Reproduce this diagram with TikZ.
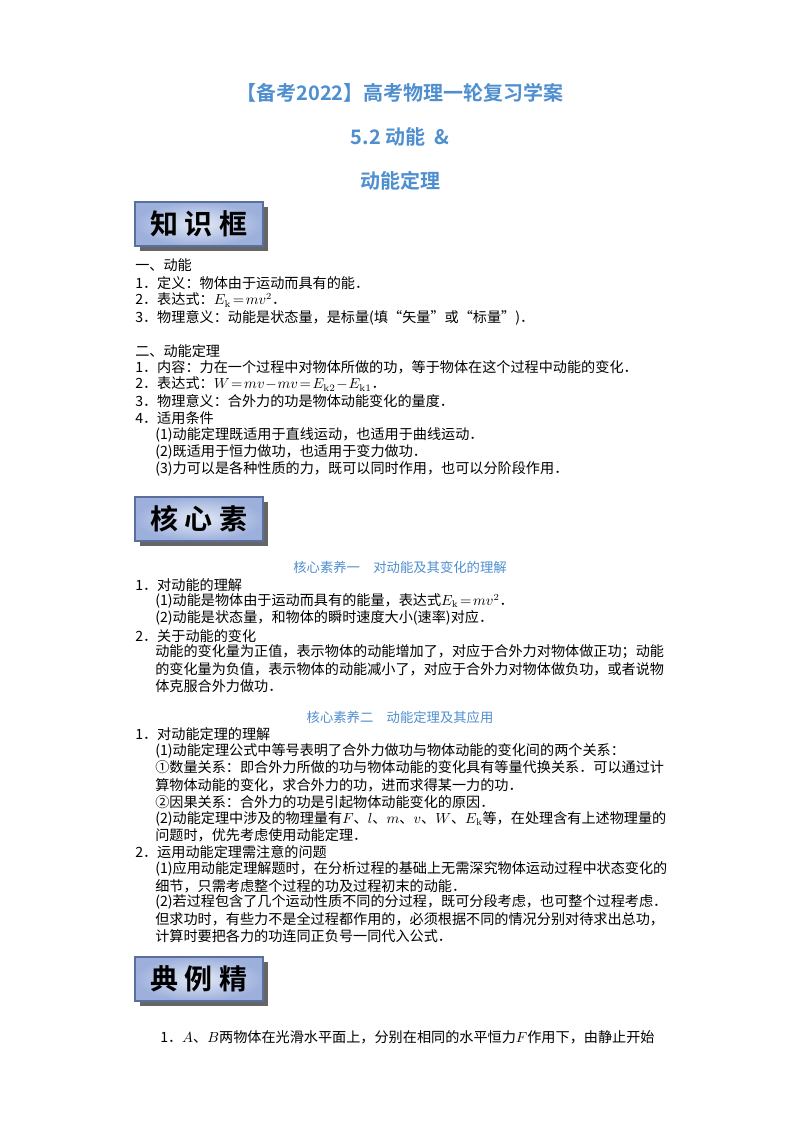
\documentclass[tikz,border=0pt]{standalone}
\usepackage{fontspec}
\newfontfamily\cjk{Noto Sans CJK SC}
\newfontfamily\cjkb{Noto Sans CJK SC}[BoldFont={* Bold}]
\definecolor{tblue}{HTML}{4F8FD0}
\definecolor{boxin}{HTML}{E4EAF6}
\definecolor{boxout}{HTML}{9DB0DC}
\definecolor{boxline}{HTML}{5A6F9E}
\begin{document}
\begin{tikzpicture}[x=0.75pt,y=-0.75pt,
  txt/.style={anchor=west,inner sep=0,font=\cjk\fontsize{10.6}{12}\selectfont},
  ttl/.style={inner sep=0,text=tblue,font=\cjkb\bfseries\fontsize{15}{18}\selectfont},
  sub/.style={inner sep=0,text=tblue,font=\cjk\fontsize{10}{12}\selectfont},
  hbox/.style={draw=boxline,line width=0.8pt,inner color=boxin,outer color=boxout,minimum width=96pt,minimum height=33pt,font=\cjkb\bfseries\fontsize{21}{24}\selectfont}]
\fill[white] (0,0) rectangle (800,1132);
\useasboundingbox (0,0) rectangle (800,1132);
\node[ttl] (t1) at (400,93) {【备考2022】高考物理一轮复习学案};
\node[ttl] (t2) at (400,137) {5.2 动能\ \ \&};
\node[ttl] (t3) at (400,181) {动能定理};
% boxes
\foreach \n/\yy/\lab in {b1/224/知\ 识\ 框, b2/519/核\ 心\ 素, b3/979/典\ 例\ 精}{
  \fill[black!60] (140,\yy-17) rectangle (268,\yy+27);
  \node[hbox] (\n) at (199,\yy) {\lab};
}
\node[txt] (a1) at (135,265) {一、动能};
\node[txt] (a2) at (135,283) {1．定义：物体由于运动而具有的能．};
\node[txt] (a3) at (135,300) {2．表达式：$E_{\rm k}\!=\!mv^2$．};
\node[txt] (a4) at (135,318) {3．物理意义：动能是状态量，是标量(填“矢量”或“标量”)．};
\node[txt] (a5) at (135,351) {二、动能定理};
\node[txt] (a6) at (135,367) {1．内容：力在一个过程中对物体所做的功，等于物体在这个过程中动能的变化．};
\node[txt] (a7) at (135,384) {2．表达式：$W\!=\!mv\!-\!mv\!=\!E_{\rm k2}\!-\!E_{\rm k1}$．};
\node[txt] (a8) at (135,401) {3．物理意义：合外力的功是物体动能变化的量度．};
\node[txt] (a9) at (135,418) {4．适用条件};
\node[txt] (a10) at (155,435) {(1)动能定理既适用于直线运动，也适用于曲线运动．};
\node[txt] (a11) at (155,452) {(2)既适用于恒力做功，也适用于变力做功．};
\node[txt] (a12) at (155,469) {(3)力可以是各种性质的力，既可以同时作用，也可以分阶段作用．};
\node[sub] (s1) at (400,567) {核心素养一\quad 对动能及其变化的理解};
\node[txt] (c1) at (135,585) {1．对动能的理解};
\node[txt] (c2) at (155,601) {(1)动能是物体由于运动而具有的能量，表达式$E_{\rm k}\!=\!mv^2$．};
\node[txt] (c3) at (155,618) {(2)动能是状态量，和物体的瞬时速度大小(速率)对应．};
\node[txt] (c4) at (135,636) {2．关于动能的变化};
\node[txt] (c5) at (155,652) {动能的变化量为正值，表示物体的动能增加了，对应于合外力对物体做正功；动能};
\node[txt] (c6) at (155,669) {的变化量为负值，表示物体的动能减小了，对应于合外力对物体做负功，或者说物};
\node[txt] (c7) at (155,686) {体克服合外力做功．};
\node[sub] (s2) at (400,717) {核心素养二\quad 动能定理及其应用};
\node[txt] (d1) at (135,734) {1．对动能定理的理解};
\node[txt] (d2) at (155,751) {(1)动能定理公式中等号表明了合外力做功与物体动能的变化间的两个关系：};
\node[txt] (d3) at (155,767) {①数量关系：即合外力所做的功与物体动能的变化具有等量代换关系．可以通过计};
\node[txt] (d4) at (155,785) {算物体动能的变化，求合外力的功，进而求得某一力的功．};
\node[txt] (d5) at (155,802) {②因果关系：合外力的功是引起物体动能变化的原因．};
\node[txt] (d6) at (155,819) {(2)动能定理中涉及的物理量有$F$、$l$、$m$、$v$、$W$、$E_{\rm k}$等，在处理含有上述物理量的};
\node[txt] (d7) at (155,835) {问题时，优先考虑使用动能定理．};
\node[txt] (d8) at (135,852) {2．运用动能定理需注意的问题};
\node[txt] (d9) at (155,869) {(1)应用动能定理解题时，在分析过程的基础上无需深究物体运动过程中状态变化的};
\node[txt] (d10) at (155,886) {细节，只需考虑整个过程的功及过程初末的动能．};
\node[txt] (d11) at (155,902) {(2)若过程包含了几个运动性质不同的分过程，既可分段考虑，也可整个过程考虑．};
\node[txt] (d12) at (155,919) {但求功时，有些力不是全过程都作用的，必须根据不同的情况分别对待求出总功，};
\node[txt] (d13) at (155,936) {计算时要把各力的功连同正负号一同代入公式．};
\node[txt] (e1) at (160,1037) {1．$A$、$B$两物体在光滑水平面上，分别在相同的水平恒力$F$作用下，由静止开始};
\end{tikzpicture}
\end{document}
